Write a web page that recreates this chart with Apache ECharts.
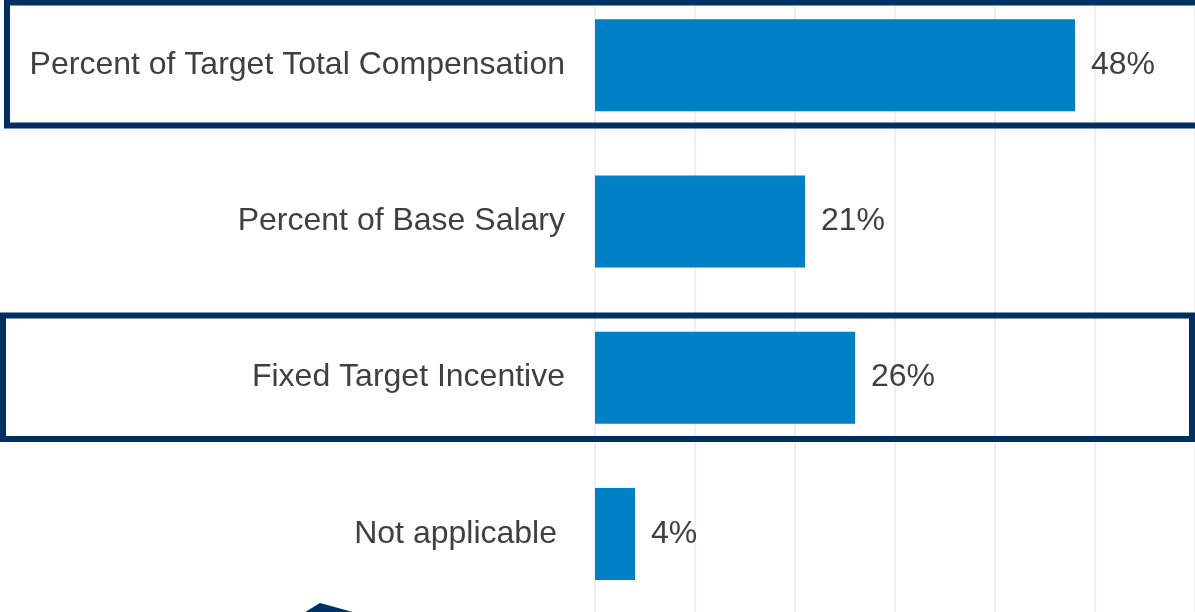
<!DOCTYPE html>
<html>
<head>
<meta charset="utf-8">
<script src="https://cdn.jsdelivr.net/npm/echarts@6/dist/echarts.min.js"></script>
<style>
  html, body { margin: 0; padding: 0; background: #ffffff; }
  #chart { width: 1195px; height: 612px; }
</style>
</head>
<body>
<div id="chart"></div>
<script>
// Incentive target basis – share of respondents
const categories = [
  'Percent of Target Total Compensation',
  'Percent of Base Salary',
  'Fixed Target Incentive',
  'Not applicable'
];
const shares = [48, 21, 26, 4];
const axisTicks = [0, 10, 20, 30, 40, 50, 60];

const navy = '#002f63';
const barBlue = '#0080c6';
const textGrey = '#404040';
const font = 'Liberation Sans, Arial, sans-serif';

const chart = echarts.init(document.getElementById('chart'), null, { renderer: 'canvas' });

chart.setOption({
  animation: false,
  backgroundColor: '#ffffff',
  grid: {
    left: 595, width: 600, top: -13, height: 625,
    containLabel: false, outerBoundsMode: 'none'
  },
  xAxis: {
    type: 'value',
    min: axisTicks[0],
    max: axisTicks[axisTicks.length - 1],
    interval: axisTicks[1] - axisTicks[0],
    axisLabel: { show: false },
    axisLine: { show: false },
    axisTick: { show: false },
    splitLine: { show: true, lineStyle: { color: '#efeff5', width: 2 } }
  },
  yAxis: {
    type: 'category',
    inverse: true,
    data: categories.map((c, i) => i === 3
      ? { value: c, textStyle: { padding: [4, 8, 0, 0] } }
      : c),
    axisLine: { show: false },
    axisTick: { show: false },
    axisLabel: {
      margin: 30,
      padding: [4, 0, 0, 0],
      color: textGrey,
      fontFamily: font,
      fontSize: 32
    }
  },
  series: [{
    type: 'bar',
    data: shares,
    barWidth: 92,
    itemStyle: { color: barBlue },
    label: {
      show: true,
      position: 'right',
      distance: 16,
      padding: [4, 0, 0, 0],
      formatter: '{c}%',
      color: textGrey,
      fontFamily: font,
      fontSize: 32
    }
  }],
  graphic: [
    {
      type: 'rect',
      shape: { x: 7, y: 2.5, width: 1200, height: 123 },
      style: { fill: 'none', stroke: navy, lineWidth: 6 },
      z: 100
    },
    {
      type: 'rect',
      shape: { x: 3, y: 315.5, width: 1189, height: 123.5 },
      style: { fill: 'none', stroke: navy, lineWidth: 6 },
      z: 100
    },
    {
      type: 'polygon',
      shape: { points: [[302, 614], [320, 603], [360, 614]] },
      style: { fill: navy },
      z: 100
    }
  ]
});
</script>
</body>
</html>
